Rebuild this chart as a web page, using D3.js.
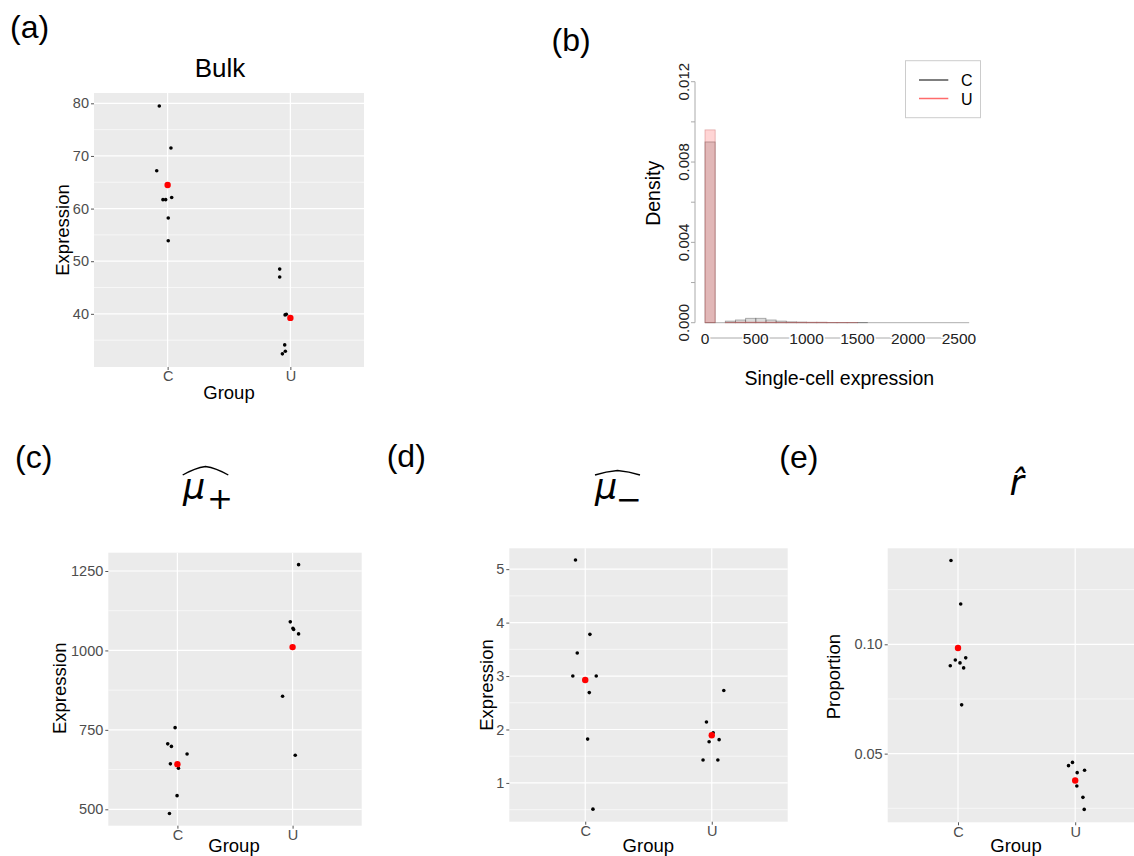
<!DOCTYPE html>
<head>
  <meta charset="utf-8">
  <script src="https://d3js.org/d3.v7.min.js"></script>
  <style>
    body { margin: 0; background: #fff; }
    svg { width: 1134px; height: 856px; display: block; }
    text { font-family: "Liberation Sans", Arial, sans-serif; }
  </style>
</head>

<body>
  <svg></svg>
  <script>
    var groups = ['C', 'U'];

    // (a) Bulk
    var bulkC = [79.5, 71.5, 67.2, 62.1, 61.7, 61.7, 58.2, 53.9];
    var bulkCJit = [-0.068, 0.027, -0.089, 0.033, -0.038, -0.016, 0.005, 0.005];
    var bulkU = [48.5, 47.0, 39.9, 39.8, 34.1, 32.9, 32.4];
    var bulkUJit = [-0.087, -0.087, -0.033, -0.043, -0.046, -0.041, -0.065];

    // (b) histogram, bins of 100
    var binStarts = [0, 100, 200, 300, 400, 500, 600, 700, 800, 900, 1000, 1100, 1200,
      1300, 1400, 1500, 1600, 1700, 1800, 1900, 2000, 2100, 2200, 2300, 2400, 2500];
    var densC = [0.0090, 0, 0.00008, 0.000135, 0.00022, 0.00022, 0.000135, 0.00008, 0.00004,
      0.00003, 0.00002, 0.00002, 0.00001, 0.00001, 0.00001, 0.000005, 0, 0, 0, 0, 0, 0, 0, 0, 0, 0];
    var densU = [0.0096, 0, 0.00002, 0.00003, 0.00003, 0.00003, 0.00003, 0.00002, 0.00002,
      0.00002, 0.00002, 0.00002, 0.00001, 0.00001, 0.000005, 0, 0, 0, 0, 0, 0, 0, 0, 0, 0, 0];
    var histXTicks = [0, 500, 1000, 1500, 2000, 2500];
    var histYTicks = [0, 0.002, 0.004, 0.006, 0.008, 0.010, 0.012];
    var histYLabels = ['0.000', '', '0.004', '', '0.008', '', '0.012'];

    // (c) mu plus
    var muPlusC = [757, 706, 698, 674, 643, 629, 543, 487];
    var muPlusCJit = [-0.020, -0.084, -0.052, 0.084, -0.061, 0.009, -0.003, -0.069];
    var muPlusU = [1270, 1090, 1070, 1066, 1052, 856, 670];
    var muPlusUJit = [0.052, -0.020, 0.003, 0.009, 0.052, -0.087, 0.023];

    // (d) mu minus
    var muMinusC = [5.17, 3.78, 3.43, 3.0, 3.0, 2.69, 1.82, 0.51];
    var muMinusCJit = [-0.077, 0.037, -0.063, -0.098, 0.087, 0.032, 0.019, 0.061];
    var muMinusU = [2.73, 2.14, 1.94, 1.77, 1.81, 1.43, 1.43];
    var muMinusUJit = [0.095, -0.042, 0.011, -0.021, 0.058, -0.069, 0.048];

    // (e) r hat
    var rHatC = [0.1383, 0.1184, 0.0938, 0.0928, 0.0915, 0.0902, 0.0892, 0.0723];
    var rHatCJit = [-0.060, 0.023, 0.066, -0.023, 0.017, -0.066, 0.048, 0.031];
    var rHatU = [0.0460, 0.0445, 0.0424, 0.0413, 0.0352, 0.0300, 0.0245];
    var rHatUJit = [-0.023, -0.057, 0.080, 0.017, 0.014, 0.066, 0.077];

    var svg = d3.select('svg');

    function jitterPanel(o) {
      var g = svg.append('g');
      var x = d3.scaleLinear().domain([0.4, 2.6]).range([o.left, o.right]);
      var y = d3.scaleLinear().domain(o.domain).range([o.bottom, o.top]);

      g.append('rect')
        .attr('x', o.left).attr('y', o.top)
        .attr('width', o.right - o.left).attr('height', o.bottom - o.top)
        .attr('fill', '#ebebeb');

      g.selectAll('line.minor').data(o.minor).enter().append('line')
        .attr('x1', o.left).attr('x2', o.right)
        .attr('y1', y).attr('y2', y)
        .attr('stroke', '#fff').attr('stroke-width', 0.6);

      g.selectAll('line.major').data(o.ticks).enter().append('line')
        .attr('x1', o.left).attr('x2', o.right)
        .attr('y1', y).attr('y2', y)
        .attr('stroke', '#fff').attr('stroke-width', 1.2);

      g.selectAll('line.vgrid').data([1, 2]).enter().append('line')
        .attr('x1', x).attr('x2', x)
        .attr('y1', o.top).attr('y2', o.bottom)
        .attr('stroke', '#fff').attr('stroke-width', 1.2);

      // y axis ticks + labels
      var yAxis = d3.axisLeft(y).tickValues(o.ticks).tickSize(3).tickPadding(2)
        .tickFormat(o.fmt || d3.format('d'));
      var ya = g.append('g').attr('transform', 'translate(' + o.left + ',0)').call(yAxis);
      ya.select('.domain').remove();
      ya.selectAll('line').attr('stroke', '#555');
      ya.selectAll('text').attr('fill', '#4d4d4d').style('font-size', '14.5px');

      // x axis ticks + labels
      var xAxis = d3.axisBottom(x).tickValues([1, 2]).tickSize(3).tickPadding(1)
        .tickFormat(function(d) { return groups[d - 1]; });
      var xa = g.append('g').attr('transform', 'translate(0,' + o.bottom + ')').call(xAxis);
      xa.select('.domain').remove();
      xa.selectAll('line').attr('stroke', '#555');
      xa.selectAll('text').attr('fill', '#4d4d4d').style('font-size', '14.5px');

      var pts = [];
      o.c.forEach(function(v, i) { pts.push({x: 1 + o.cJit[i], y: v}); });
      o.u.forEach(function(v, i) { pts.push({x: 2 + o.uJit[i], y: v}); });
      g.selectAll('circle.pt').data(pts).enter().append('circle')
        .attr('cx', function(d) { return x(d.x); })
        .attr('cy', function(d) { return y(d.y); })
        .attr('r', 1.8).attr('fill', '#000');

      var means = [{x: 1, y: d3.mean(o.c)}, {x: 2, y: d3.mean(o.u)}];
      g.selectAll('circle.mean').data(means).enter().append('circle')
        .attr('cx', function(d) { return x(d.x); })
        .attr('cy', function(d) { return y(d.y); })
        .attr('r', 3.2).attr('fill', '#ff0000');

      g.append('text')
        .attr('transform', 'translate(' + o.ylab[1] + ',' + o.ylab[2] + ')rotate(-90)')
        .attr('text-anchor', 'middle').attr('dominant-baseline', 'central')
        .style('font-size', '18.5px').text(o.ylab[0]);
      g.append('text')
        .attr('x', o.xlab[0]).attr('y', o.xlab[1])
        .attr('text-anchor', 'middle').attr('dominant-baseline', 'central')
        .style('font-size', '18.5px').text('Group');
    }

    jitterPanel({
      left: 94, right: 364, top: 93, bottom: 367, domain: [29.9, 81.96],
      ticks: [40, 50, 60, 70, 80], minor: [35, 45, 55, 65, 75],
      c: bulkC, cJit: bulkCJit, u: bulkU, uJit: bulkUJit,
      ylab: ['Expression', 62, 230], xlab: [229, 392]
    });
    jitterPanel({
      left: 108.3, right: 361.7, top: 552.7, bottom: 825.7, domain: [448.4, 1307.6],
      ticks: [500, 750, 1000, 1250], minor: [625, 875, 1125],
      c: muPlusC, cJit: muPlusCJit, u: muPlusU, uJit: muPlusUJit,
      ylab: ['Expression', 59.3, 688.3], xlab: [234, 845]
    });
    jitterPanel({
      left: 509.3, right: 787.7, top: 548.3, bottom: 821.7, domain: [0.275, 5.39],
      ticks: [1, 2, 3, 4, 5], minor: [0.5, 1.5, 2.5, 3.5, 4.5],
      c: muMinusC, cJit: muMinusCJit, u: muMinusU, uJit: muMinusUJit,
      ylab: ['Expression', 486.7, 685], xlab: [648.3, 845]
    });
    jitterPanel({
      left: 887.7, right: 1145.5, top: 548.3, bottom: 822.3, domain: [0.0186, 0.1439],
      ticks: [0.05, 0.10], minor: [0.025, 0.075, 0.125], fmt: d3.format('.2f'),
      c: rHatC, cJit: rHatCJit, u: rHatU, uJit: rHatUJit,
      ylab: ['Proportion', 833.3, 676.7], xlab: [1016, 845]
    });

    // (b) histogram
    var hx = d3.scaleLinear().domain([0, 2500]).range([705, 959]);
    var hy = d3.scaleLinear().domain([0, 0.012]).range([322.7, 81.7]);
    var hist = svg.append('g');

    // baseline under every bin, including the empty ones
    hist.append('line')
      .attr('x1', hx(0)).attr('x2', hx(2600)).attr('y1', hy(0)).attr('y2', hy(0))
      .attr('stroke', 'rgba(90,90,90,0.55)').attr('stroke-width', 0.9);

    function bars(dens, fill, stroke) {
      hist.selectAll(null).data(binStarts).enter().append('rect')
        .attr('x', function(d) { return hx(d); })
        .attr('width', function(d) { return hx(d + 100) - hx(d); })
        .attr('y', function(d, i) { return hy(dens[i]); })
        .attr('height', function(d, i) { return hy(0) - hy(dens[i]); })
        .attr('fill', fill).attr('stroke', stroke).attr('stroke-width', 0.8);
    }
    bars(densC, 'rgba(0,0,0,0.14)', 'rgba(90,90,90,0.55)');
    bars(densU, 'rgba(255,0,0,0.165)', 'rgba(200,100,100,0.5)');

    // y axis of histogram
    hist.append('line')
      .attr('x1', 695).attr('x2', 695).attr('y1', hy(0)).attr('y2', hy(0.012))
      .attr('stroke', '#aaa');
    hist.selectAll(null).data(histYTicks).enter().append('line')
      .attr('x1', 691).attr('x2', 695).attr('y1', hy).attr('y2', hy)
      .attr('stroke', '#aaa');
    hist.selectAll(null).data(histYTicks).enter().append('text')
      .attr('transform', function(d) { return 'translate(683.3,' + hy(d) + ')rotate(-90)'; })
      .attr('text-anchor', 'middle').attr('dominant-baseline', 'central')
      .attr('fill', '#222').style('font-size', '15px')
      .text(function(d, i) { return histYLabels[i]; });

    // x axis of histogram
    hist.append('line')
      .attr('x1', hx(0)).attr('x2', hx(2500)).attr('y1', 338).attr('y2', 338)
      .attr('stroke', '#aaa');
    hist.selectAll(null).data(histXTicks).enter().append('text')
      .attr('x', hx).attr('y', 338)
      .attr('text-anchor', 'middle').attr('dominant-baseline', 'central')
      .attr('fill', '#222').attr('stroke', '#fff').attr('stroke-width', 3)
      .style('paint-order', 'stroke').style('font-size', '15.5px')
      .text(function(d) { return d; });

    hist.append('text')
      .attr('transform', 'translate(652.7,193.3)rotate(-90)')
      .attr('text-anchor', 'middle').attr('dominant-baseline', 'central')
      .style('font-size', '19.5px').text('Density');
    hist.append('text')
      .attr('x', 839.3).attr('y', 378.3)
      .attr('text-anchor', 'middle').attr('dominant-baseline', 'central')
      .style('font-size', '19.5px').text('Single-cell expression');

    // legend
    var leg = hist.append('g');
    leg.append('rect').attr('x', 905.5).attr('y', 60.7).attr('width', 75).attr('height', 57)
      .attr('fill', '#fff').attr('stroke', '#ccc');
    var legItems = [{k: 'C', c: '#555555', y: 80}, {k: 'U', c: '#ff6b6b', y: 98.5}];
    leg.selectAll(null).data(legItems).enter().append('line')
      .attr('x1', 919).attr('x2', 948.3)
      .attr('y1', function(d) { return d.y; }).attr('y2', function(d) { return d.y; })
      .attr('stroke', function(d) { return d.c; }).attr('stroke-width', 1.5);
    leg.selectAll(null).data(legItems).enter().append('text')
      .attr('x', 966.7).attr('y', function(d) { return d.y + 0.7; })
      .attr('text-anchor', 'middle').attr('dominant-baseline', 'central')
      .style('font-size', '16px').text(function(d) { return d.k; });

    // panel letters
    var letters = [['(a)', 10, 38], ['(b)', 551.5, 51.3], ['(c)', 15, 468], ['(d)', 386.7, 466.5], ['(e)', 779.3, 468]];
    svg.selectAll(null).data(letters).enter().append('text')
      .attr('x', function(d) { return d[1]; }).attr('y', function(d) { return d[2]; })
      .style('font-size', '32px').text(function(d) { return d[0]; });

    // titles
    svg.append('text').attr('x', 220).attr('y', 77).attr('text-anchor', 'middle')
      .style('font-size', '26px').text('Bulk');

    var mathFont = '"DejaVu Sans", sans-serif';
    // mu plus
    svg.append('text').attr('x', 183).attr('y', 499)
      .style('font-family', mathFont).style('font-style', 'italic').style('font-size', '35px').text('μ');
    svg.append('text').attr('x', 207).attr('y', 509)
      .style('font-family', mathFont).style('font-size', '31px').text('+');
    svg.append('path')
      .attr('d', 'M182.7,475 Q195,468 205.5,466.5 Q216,468 228.3,475')
      .attr('fill', 'none').attr('stroke', '#000').attr('stroke-width', 1.4);
    // mu minus
    svg.append('text').attr('x', 595).attr('y', 499)
      .style('font-family', mathFont).style('font-style', 'italic').style('font-size', '35px').text('μ');
    svg.append('text').attr('x', 616).attr('y', 510)
      .style('font-family', mathFont).style('font-size', '31px').text('−');
    svg.append('path')
      .attr('d', 'M595,475 Q606,471.5 617.5,470.5 Q629,471.5 640,475')
      .attr('fill', 'none').attr('stroke', '#000').attr('stroke-width', 1.4);
    // r hat
    svg.append('text').attr('x', 1016.7).attr('y', 495).attr('text-anchor', 'middle')
      .style('font-family', mathFont).style('font-style', 'italic').style('font-size', '35px').text('r̂');
  </script>
</body>
